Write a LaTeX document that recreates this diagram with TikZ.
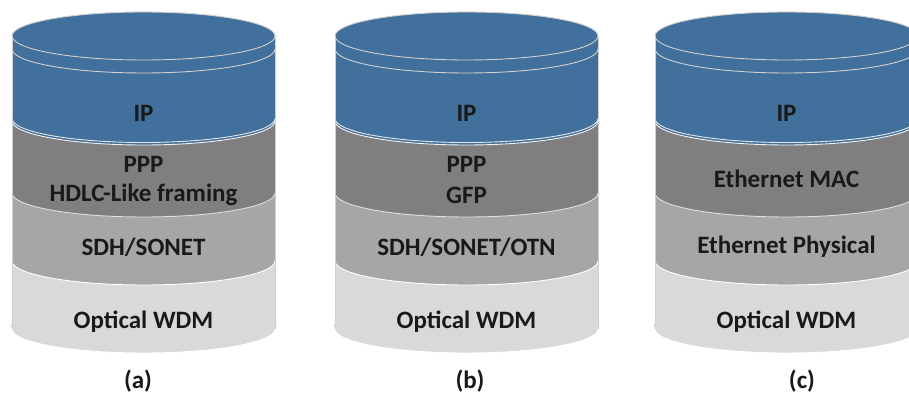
\documentclass[tikz,border=0pt]{standalone}
\usepackage{fontspec}
\setmainfont{Carlito}
\definecolor{ipblue}{HTML}{41709C}
\definecolor{pppgray}{HTML}{7F7F7F}
\definecolor{sdhgray}{HTML}{A6A6A6}
\definecolor{optgray}{HTML}{D9D9D9}
\definecolor{rimgray}{HTML}{D0D0D0}
\definecolor{glowblue}{HTML}{C6D6EA}
\tikzset{
  lbl/.style={font=\fontsize{25}{30}\selectfont\bfseries, text=black!90, align=center, inner sep=0pt},
  caption/.style={font=\fontsize{25}{30}\selectfont\bfseries, text=black!90, inner sep=0pt},
  edge/.style={draw=#1, line width=0.9pt},
}
% half ellipse (front side) of a layer boundary, radii of the cylinder
\newcommand\frontarc{arc[start angle=180, end angle=360, x radius=131.5, y radius=24]}
% one layer: top edge height, bottom edge height, colour
\newcommand\stacklayer[3]{%
  \fill[#3] (-131.5,#1) -- (-131.5,#2) \frontarc -- (131.5,#1) -- cycle;}
% a complete stacked cylinder centred at x = #1
\newcommand\drawstack[1]{%
  \begin{scope}[shift={(#1,0)}]
    % soft glow under the base
    \foreach \d/\o in {1/0.6,2.2/0.4,3.4/0.22,4.6/0.1}{
      \draw[glowblue, opacity=\o, line width=1.2pt]
        (-131.5-\d*0.4,70)
        arc[start angle=180, end angle=360, x radius=131.5+\d*0.4, y radius=24+\d*0.7];
    }
    \stacklayer{140}{65}{optgray}
    \stacklayer{208}{133}{sdhgray}
    \stacklayer{280}{201}{pppgray}
    \stacklayer{358}{273}{ipblue}
    % top disc
    \fill[ipblue] (0,358) ellipse[x radius=131.5, y radius=24];
    \draw[edge=rimgray] (0,358) ellipse[x radius=131.5, y radius=24];
    \draw[edge=rimgray] (-131.5,345) \frontarc;
    % boundaries between the layers
    \draw[edge=white!80!gray] (-131.5,275.5) \frontarc;
    \draw[edge=white!90!gray] (-131.5,273) \frontarc;
    \draw[edge=white!75!gray] (-131.5,201) \frontarc;
    \draw[edge=white] (-131.5,133) \frontarc;
    \draw[edge=white] (-131.5,65) \frontarc;
    % side outlines
    \draw[edge=rimgray, line width=0.7pt] (-131.5,358) -- (-131.5,65);
    \draw[edge=rimgray, line width=0.7pt] (131.5,358) -- (131.5,65);
  \end{scope}}
\begin{document}
\begin{tikzpicture}[x=1pt, y=1pt]
  \useasboundingbox (0,0) rectangle (909,394);
  \clip (0,0) rectangle (909,394);
  \fill[white] (0,0) rectangle (909,394);

  \drawstack{143.5}
  \drawstack{466.5}
  \drawstack{786.5}

  % (a) PPP over SDH/SONET
  \node[lbl] (aip)  at (143.5,281) {IP};
  \node[lbl] (appp) at (143.5,230) {PPP};
  \node[lbl] (ahd)  at (143.5,199) {HDLC-Like framing};
  \node[lbl] (asdh) at (143.5,147) {SDH/SONET};
  \node[lbl] (aopt) at (143.5,72)  {Optical WDM};
  \node[caption] (acap) at (138,13) {(a)};

  % (b) PPP/GFP over SDH/SONET/OTN
  \node[lbl] (bip)  at (466.5,281) {IP};
  \node[lbl] (bppp) at (466.5,230) {PPP};
  \node[lbl] (bgfp) at (466.5,199) {GFP};
  \node[lbl] (bsdh) at (466.5,147) {SDH/SONET/OTN};
  \node[lbl] (bopt) at (466.5,72)  {Optical WDM};
  \node[caption] (bcap) at (470,13) {(b)};

  % (c) Ethernet
  \node[lbl] (cip)  at (786.5,281) {IP};
  \node[lbl] (cmac) at (786.5,215) {Ethernet MAC};
  \node[lbl] (cphy) at (786.5,147) {Ethernet Physical};
  \node[lbl] (copt) at (786.5,72)  {Optical WDM};
  \node[caption] (ccap) at (802,13) {(c)};
\end{tikzpicture}
\end{document}
